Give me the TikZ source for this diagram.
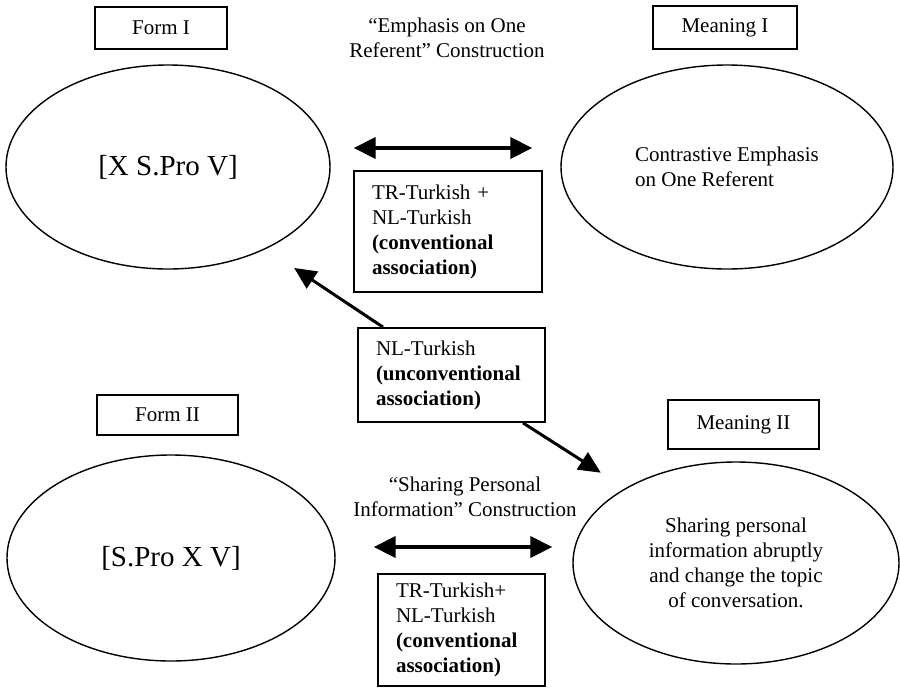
\documentclass[tikz,border=0pt]{standalone}
\usepackage{fontspec}
\setmainfont{Liberation Serif}
\usepackage{tikz}
\usetikzlibrary{
    shapes.geometric,
    arrows.meta,
    positioning
}
\tikzset{
    % Base style for all nodes
    plain base/.style={
        font=\fontsize{10.5}{12.5}\selectfont,
        align=center,
        text=black,
    },
    % Form / Meaning title boxes
    title box/.style={
        plain base,
        rectangle,
        draw=black,
        line width=0.9pt,
    },
    % Construction ellipses
    construction/.style={
        plain base,
        ellipse,
        draw=black,
        line width=0.7pt,
        inner sep=0pt,
    },
    % Bigger text for the form patterns
    pattern text/.style={
        font=\fontsize{14.5}{17}\selectfont,
    },
    % Association boxes - left aligned text
    assoc box/.style={
        plain base,
        rectangle,
        draw=black,
        line width=0.9pt,
        align=left,
        inner xsep=9pt,
        inner ysep=2pt,
    },
    % Construction captions without frame
    caption/.style={
        plain base,
    },
    % Two-way arrow
    both arrow/.style={
        {Triangle[length=11pt, width=10.5pt]}-{Triangle[length=11pt, width=10.5pt]},
        line width=2pt,
    },
    % One-way arrow
    arrow/.style={
        -{Triangle[length=11pt, width=10pt]},
        line width=1.5pt,
    },
}
\begin{document}
\begin{tikzpicture}[x=0.5pt, y=-0.5pt]
    \useasboundingbox (0,0) rectangle (900,687);

    \node (formI) [title box, minimum width=66pt, minimum height=21pt] at (161,28) {Form I};
    \node (meaningI) [title box, minimum width=72pt, minimum height=21.5pt] at (725,27.5) {Meaning I};
    \node (emphasis) [caption] at (447,38) {“Emphasis on One\\Referent” Construction};

    \node (formX) [construction, pattern text, minimum width=162pt, minimum height=102pt] at (168,167) {[X S.Pro V]};
    \node (contrast) [construction, align=left, minimum width=166pt, minimum height=102pt] at (727,167) {Contrastive Emphasis\\on One Referent};
    \node (convI) [assoc box, text width=76pt, minimum height=60.5pt] at (448,231.5) {TR-Turkish +\\NL-Turkish\\\textbf{(conventional}\\\textbf{association)}};

    \node (nlbox) [assoc box, text width=75.5pt, minimum height=47pt] at (451.5,375) {NL-Turkish\\\textbf{(unconventional}\\\textbf{association)}};

    \node (formII) [title box, minimum width=70.5pt, minimum height=20pt] at (167.5,415) {Form II};
    \node (meaningII) [title box, minimum width=75.5pt, minimum height=24.5pt] at (743.5,424.5) {Meaning II};
    \node (sharing) [caption] at (465,497) {“Sharing Personal\\Information” Construction};

    \node (formX2) [construction, pattern text, minimum width=164pt, minimum height=103pt] at (171,558) {[S.Pro X V]};
    \node (share) [construction, minimum width=163pt, minimum height=101pt] at (736,563) {Sharing personal\\information abruptly\\and change the topic\\of conversation.};
    \node (convII) [assoc box, text width=65.5pt, minimum height=56pt] at (461.5,630) {TR-Turkish+\\NL-Turkish\\\textbf{(conventional}\\\textbf{association)}};

    \draw [both arrow, shorten <=11.5pt, shorten >=14pt] ([yshift=9.5pt]formX.east) -- ([yshift=9.5pt]contrast.west);
    \draw [both arrow, shorten <=19pt, shorten >=10pt] ([yshift=5.5pt]formX2.east) -- ([yshift=8pt]share.west);
    \draw [arrow, shorten >=17pt] ([xshift=-34.25pt]nlbox.north) -- (formX.-40);
    \draw [arrow, shorten >=14.4pt] ([xshift=35.75pt]nlbox.south) -- (share.146);
\end{tikzpicture}
\end{document}
